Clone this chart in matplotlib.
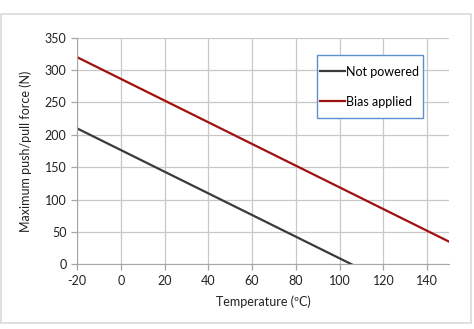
import matplotlib.pyplot as plt
from matplotlib.patches import Rectangle

# force vs temperature, two operating modes
temp_not_powered = [-20, 105.5]
force_not_powered = [210, 0]
temp_bias = [-20, 150]
force_bias = [320, 35]

x_ticks = [-20, 0, 20, 40, 60, 80, 100, 120, 140]
y_ticks = [0, 50, 100, 150, 200, 250, 300, 350]

W, H = 474, 329
plt.rcParams['font.family'] = ['Lato', 'DejaVu Sans']
plt.rcParams['axes.unicode_minus'] = False

fig = plt.figure(figsize=(W / 100, H / 100), dpi=100)
# outer chart border
fig.patches.append(Rectangle((1 / W, 1 - 323 / H), 470 / W, 309 / H,
                             transform=fig.transFigure, fill=False,
                             edgecolor='#d9d9d9', linewidth=1.2))

ax = fig.add_axes([77 / W, 1 - 264.3 / H, 372 / W, 226.6 / H])
ax.plot(temp_not_powered, force_not_powered, color='#3a3a3a', lw=1.6,
        label='Not powered')
ax.plot(temp_bias, force_bias, color='#a01010', lw=1.6, label='Bias applied')

ax.set_xlim(-20, 150)
ax.set_ylim(0, 350)
ax.set_xticks(x_ticks)
ax.set_yticks(y_ticks)
ax.grid(True, color='#c8c8c8', lw=0.9)
ax.set_axisbelow(True)
for side in ['top', 'right']:
    ax.spines[side].set_visible(False)
for side in ['left', 'bottom']:
    ax.spines[side].set_color('#a6a6a6')
ax.tick_params(colors='#a6a6a6', labelcolor='#222222', labelsize=9,
               length=4, width=0.9)

ax.set_xlabel('Temperature (ºC)', fontsize=9, color='#222222', labelpad=6)
ax.set_ylabel('Maximum push/pull force (N)', fontsize=9, color='#222222',
              labelpad=9)

# legend box drawn separately, entries placed inside it
box = Rectangle((317 / W, 1 - 118 / H), 106 / W, 63 / H,
                transform=fig.transFigure, facecolor='white',
                edgecolor='#5b8fd0', linewidth=1.0, zorder=4, clip_on=False)
ax.add_patch(box)
leg = ax.legend(loc='upper left', bbox_to_anchor=(320 / W, 1 - 65.5 / H),
                bbox_transform=fig.transFigure, fontsize=9, frameon=False,
                handlelength=2.0, handletextpad=0.1, labelspacing=1.45,
                borderpad=0, borderaxespad=0)
leg.set_zorder(5)

fig.savefig('out.png', dpi=100)
